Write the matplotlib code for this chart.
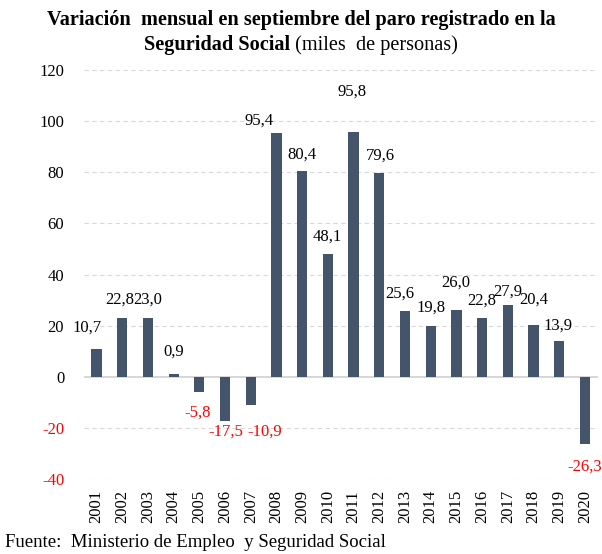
import numpy as np
import matplotlib.pyplot as plt

years = [str(y) for y in range(2001, 2021)]
values = [10.7, 22.8, 23.0, 0.9, -5.8, -17.5, -10.9, 95.4, 80.4, 48.1,
          95.8, 79.6, 25.6, 19.8, 26.0, 22.8, 27.9, 20.4, 13.9, -26.3]
y_ticks = [-40, -20, 0, 20, 40, 60, 80, 100, 120]

# label offsets in pixels (x, y) relative to the bar end, as placed in the original
label_dx = [-9, -2, 0, 0, -2, 1, 14, -17, 0, -1, -2, 1, -5, 0, -1, 0, 0, 0, -1, 0]
label_dy = [22, 19, 18, 23, -21, -10, -27, 12, 17, 17, 40, 18, 18, 18, 28, 18, 14, 25, 16, -23]

bar_color = '#44546A'
serif = ['Liberation Serif', 'DejaVu Serif']
plt.rcParams['font.family'] = serif

fig = plt.figure(figsize=(6.02, 5.54), dpi=100)
ax = fig.add_axes([0.139, 0.1354, 0.854, 0.7382])

x = np.arange(len(years))
ax.bar(x, values, width=0.4, color=bar_color, zorder=3)

for i, v in enumerate(values):
    col = 'red' if v < 0 else 'black'
    ax.annotate(f'{v:.1f}'.replace('.', ','), (x[i], v),
                xytext=(label_dx[i], label_dy[i]), textcoords='offset pixels',
                ha='center', va='center', fontsize=12, color=col, zorder=4)

ax.set_xlim(-0.5, len(years) - 0.5)
ax.set_ylim(-40, 120)
ax.set_yticks(y_ticks)
ax.set_yticklabels([str(t) for t in y_ticks], fontsize=12)
for lbl, t in zip(ax.get_yticklabels(), y_ticks):
    if t < 0:
        lbl.set_color('red')
ax.set_xticks(x)
ax.set_xticklabels(years, rotation=90, fontsize=12)
ax.tick_params(axis='both', length=0)
ax.tick_params(axis='x', pad=8)
ax.tick_params(axis='y', pad=14)

for t in y_ticks:
    if t == 0:
        ax.axhline(0, color='#D0D0D0', lw=1.2, zorder=2)
    else:
        ax.axhline(t, color='#D9D9D9', lw=0.8, ls=(0, (4, 3)), zorder=1)

for s in ax.spines.values():
    s.set_visible(False)

fig.text(0.5, 0.963, 'Variación  mensual en septiembre del paro registrado en la',
         ha='center', va='center', fontsize=14.6, fontweight='bold')
fig.canvas.draw()
r = fig.canvas.get_renderer()
t1 = fig.text(0, 0.919, 'Seguridad Social', ha='left', va='center',
              fontsize=14.6, fontweight='bold')
t2 = fig.text(0, 0.919, ' (miles  de personas)', ha='left', va='center', fontsize=14.6)
w1 = t1.get_window_extent(r).width / fig.bbox.width
w2 = t2.get_window_extent(r).width / fig.bbox.width
start = 0.5 - (w1 + w2) / 2
t1.set_x(start)
t2.set_x(start + w1)

fig.text(0.008, 0.02, 'Fuente:  Ministerio de Empleo  y Seguridad Social',
         ha='left', va='center', fontsize=13.5)

fig.savefig('out.png', dpi=100)
